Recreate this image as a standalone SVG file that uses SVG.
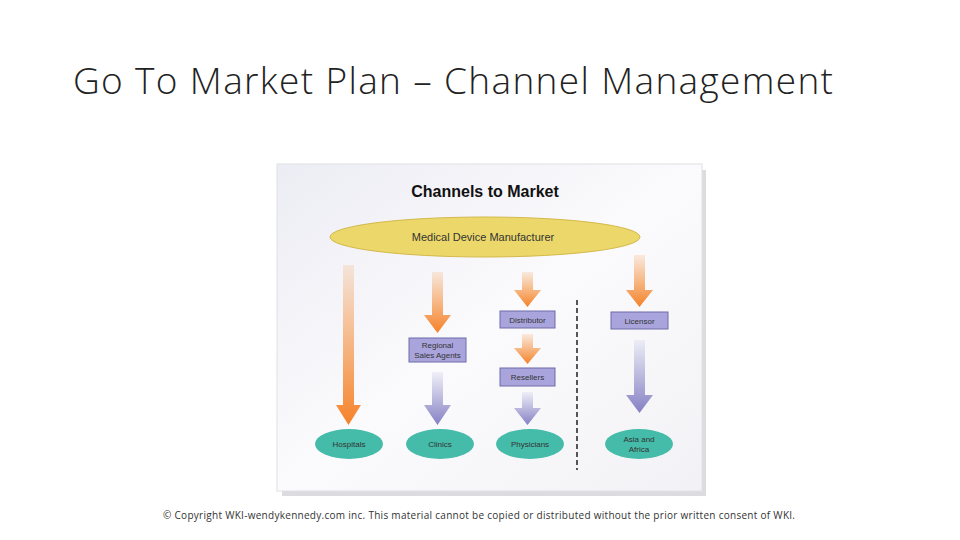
<svg xmlns="http://www.w3.org/2000/svg" width="960" height="540" viewBox="0 0 960 540">
<defs>
<linearGradient id="og" x1="0" y1="0" x2="0" y2="1"><stop offset="0" stop-color="#f58a2e" stop-opacity="0.15"/><stop offset="1" stop-color="#f5822a"/></linearGradient>
<linearGradient id="pg" x1="0" y1="0" x2="0" y2="1"><stop offset="0" stop-color="#8c88c8" stop-opacity="0.1"/><stop offset="1" stop-color="#8580c4"/></linearGradient>
<linearGradient id="paper" x1="0" y1="0" x2="1" y2="1"><stop offset="0" stop-color="#ececf4"/><stop offset="0.5" stop-color="#fbfbfd"/><stop offset="1" stop-color="#f2f2f6"/></linearGradient>
<style>
.box{fill:#a9a5dc;stroke:#6f6aa8;stroke-width:1}
.oval{fill:#45bba9}
.lbl{font-family:"Liberation Sans",Arial,sans-serif;font-size:8px;fill:#333;text-anchor:middle}
</style>
</defs>
<rect width="960" height="540" fill="#fff"/>
<text x="73" y="94" font-family="Open Sans, Liberation Sans, sans-serif" font-weight="300" font-size="37" fill="#222" textLength="760">Go To Market Plan – Channel Management</text>
<g id="paper">
<rect x="282" y="170" width="424" height="326" fill="#dcdce0"/>
<rect x="277" y="164" width="425" height="327" fill="url(#paper)" stroke="#e0e0e6"/>
</g>
<text x="485" y="197" font-family="Liberation Sans, sans-serif" font-weight="bold" font-size="16" fill="#111" text-anchor="middle">Channels to Market</text>
<g id="connectors">
<path d="M343 265 H354 V405 H361 L348.5 425 L336 405 H343Z" fill="url(#og)"/>
<path d="M432 272 H443 V315 H451 L437.5 333 L424 315 H432Z" fill="url(#og)"/>
<path d="M432 372 H443 V405 H451 L437.5 425 L424 405 H432Z" fill="url(#pg)"/>
<path d="M522 272 H533 V290 H541 L527.5 307 L514 290 H522Z" fill="url(#og)"/>
<path d="M522 334 H533 V348 H541 L527.5 364 L514 348 H522Z" fill="url(#og)"/>
<path d="M522 392 H533 V408 H541 L527.5 425 L514 408 H522Z" fill="url(#pg)"/>
<path d="M634 255 H645 V290 H653 L639.5 307 L626 290 H634Z" fill="url(#og)"/>
<path d="M634 340 H645 V395 H653 L639.5 413 L626 395 H634Z" fill="url(#pg)"/>
<line x1="577" y1="300" x2="577" y2="470" stroke="#555" stroke-width="2" stroke-dasharray="5,3"/>
</g>
<g id="manufacturer"><ellipse cx="485" cy="237" rx="155" ry="20" fill="#ecd86a" stroke="#d4b84a"/><text class="lbl" x="483" y="241" style="font-size:11px">Medical Device Manufacturer</text></g>
<g id="distributor"><rect class="box" x="500" y="311" width="55" height="17"/><text class="lbl" x="527.5" y="323">Distributor</text></g>
<g id="licensor"><rect class="box" x="611" y="312" width="57" height="17"/><text class="lbl" x="639.5" y="324">Licensor</text></g>
<g id="regional"><rect class="box" x="409" y="338" width="57" height="24"/><text class="lbl" x="437.5" y="348">Regional</text><text class="lbl" x="437.5" y="358">Sales Agents</text></g>
<g id="resellers"><rect class="box" x="500" y="368" width="55" height="18"/><text class="lbl" x="527.5" y="380">Resellers</text></g>
<g id="hospitals"><ellipse class="oval" cx="349" cy="444" rx="34" ry="15"/><text class="lbl" x="349" y="447">Hospitals</text></g>
<g id="clinics"><ellipse class="oval" cx="440" cy="444" rx="34" ry="15"/><text class="lbl" x="440" y="447">Clinics</text></g>
<g id="physicians"><ellipse class="oval" cx="530" cy="444" rx="34" ry="15"/><text class="lbl" x="530" y="447">Physicians</text></g>
<g id="asia"><ellipse class="oval" cx="639" cy="444" rx="34" ry="15"/><text class="lbl" x="639" y="442">Asia and</text><text class="lbl" x="639" y="452">Africa</text></g>
<text x="163" y="519" font-family="Open Sans, Liberation Sans, sans-serif" font-size="10" fill="#333" textLength="632">© Copyright WKI-wendykennedy.com inc. This material cannot be copied or distributed without the prior written consent of WKI.</text>
</svg>
